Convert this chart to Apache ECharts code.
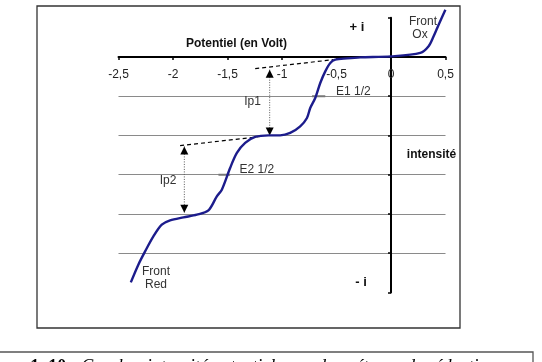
<!DOCTYPE html>
<html>
<head>
<meta charset="utf-8">
<script src="https://cdn.jsdelivr.net/npm/echarts@6/dist/echarts.min.js"></script>
<style>
html,body{margin:0;padding:0;background:#fff;overflow:hidden;}
#chart{width:542px;height:362px;}
</style>
</head>
<body>
<div id="chart"></div>
<script>
// ---- data ----
const xTicks = [-2.5, -2, -1.5, -1, -0.5, 0, 0.5];
const potentiel = [-2.387, -2.318, -2.256, -2.180, -2.103, -2.027, -1.904, -1.781, -1.675, -1.598, -1.552,
  -1.476, -1.414, -1.338, -1.246, -1.124, -1.017, -0.925, -0.833, -0.771, -0.741, -0.695, -0.649, -0.603,
  -0.557, -0.511, -0.404, -0.282, 0, 0.269, 0.345, 0.391, 0.437, 0.499];
const intensite = [-5.744, -5.293, -4.954, -4.572, -4.274, -4.164, -4.088, -4.019, -3.909, -3.552, -3.382,
  -2.829, -2.446, -2.192, -2.039, -1.998, -1.998, -1.937, -1.769, -1.555, -1.300, -1.045, -0.663, -0.367,
  -0.153, -0.069, -0.036, -0.010, 0.015, 0.102, 0.270, 0.525, 0.823, 1.205];
const tangent1X = [-1.246, -0.530];
const tangent1Y = [-0.298, -0.069];
const tangent2X = [-1.935, -1.182];
const tangent2Y = [-2.260, -2.023];
const arrowX = [-1.113, -1.896];
const arrowTop = [-0.324, -2.28];
const arrowBottom = [-2.0, -3.97];
const e1X = [-0.725, -0.603];
const e1Y = [-1, -1];
const e2X = [-1.583, -1.476];
const e2Y = [-3, -3];

const zip = (a, b) => a.map((v, i) => [v, b[i]]);
const SANS = 'Liberation Sans, Arial, sans-serif';
const SERIF = 'Liberation Serif, Times New Roman, serif';

const chart = echarts.init(document.getElementById('chart'), null, {renderer: 'canvas'});

function txt(text, x, y, opts) {
  return {
    type: 'text', x: x, y: y, z: 50,
    style: Object.assign({
      text: text, fill: '#333', font: '12px ' + SANS,
      align: 'center', verticalAlign: 'middle'
    }, opts || {})
  };
}

const Y_MIN = -6, Y_MAX = 1;
const GRID_H = 274.7;
// move the horizontal axis (with its labels) up to the line i = 0
const xAxisOffset = -GRID_H * (0 - Y_MIN) / (Y_MAX - Y_MIN);

const option = {
  animation: false,
  backgroundColor: '#fff',
  grid: {left: 118.5, top: 17.7, width: 327, height: GRID_H, containLabel: false},
  xAxis: {
    type: 'value', min: xTicks[0], max: xTicks[xTicks.length - 1], interval: 0.5,
    offset: xAxisOffset,
    axisLine: {onZero: false, lineStyle: {color: '#000', width: 2}},
    axisTick: {show: true, length: 3, lineStyle: {color: '#000', width: 1.5}},
    axisLabel: {
      margin: 12, color: '#222', fontSize: 12, fontFamily: SANS,
      formatter: v => String(v).replace('.', ',')
    },
    splitLine: {show: false}
  },
  yAxis: {
    type: 'value', min: Y_MIN, max: Y_MAX, interval: 1,
    axisLine: {onZero: true, lineStyle: {color: '#000', width: 2}},
    axisTick: {show: true, length: 3, lineStyle: {color: '#000', width: 1.5}},
    axisLabel: {show: false},
    splitLine: {show: true, showMinLine: false, showMaxLine: false, lineStyle: {color: '#8a8a8a', width: 1.2}}
  },
  series: [
    {
      type: 'line', data: zip(tangent1X, tangent1Y), showSymbol: false, symbol: 'none', z: 3,
      lineStyle: {color: '#000', width: 1.2, type: [4, 3]}, silent: true
    },
    {
      type: 'line', data: zip(tangent2X, tangent2Y), showSymbol: false, symbol: 'none', z: 3,
      lineStyle: {color: '#000', width: 1.2, type: [4, 3]}, silent: true
    },
    {
      type: 'line', data: zip(e1X, e1Y), showSymbol: false, symbol: 'none', z: 3,
      lineStyle: {color: '#777', width: 2}, silent: true
    },
    {
      type: 'line', data: zip(e2X, e2Y), showSymbol: false, symbol: 'none', z: 3,
      lineStyle: {color: '#777', width: 2}, silent: true
    },
    {
      type: 'custom', z: 4, silent: true,
      data: arrowX.map((x, i) => [x, arrowTop[i], arrowBottom[i]]),
      renderItem: function (params, api) {
        const x = api.value(0);
        const p1 = api.coord([x, api.value(1)]);
        const p2 = api.coord([x, api.value(2)]);
        const w = 4, h = 8;
        return {
          type: 'group',
          children: [
            {type: 'line', shape: {x1: p1[0], y1: p1[1], x2: p2[0], y2: p2[1]},
             style: {stroke: '#555', lineWidth: 1, lineDash: [1, 1.5]}},
            {type: 'polygon', shape: {points: [[p1[0], p1[1]], [p1[0] - w, p1[1] + h], [p1[0] + w, p1[1] + h]]},
             style: {fill: '#000'}},
            {type: 'polygon', shape: {points: [[p2[0], p2[1]], [p2[0] - w, p2[1] - h], [p2[0] + w, p2[1] - h]]},
             style: {fill: '#000'}}
          ]
        };
      }
    },
    {
      type: 'line', data: zip(potentiel, intensite), showSymbol: false, symbol: 'none',
      smooth: 0.3, clip: false, z: 5,
      lineStyle: {color: '#1c1c8c', width: 2.4}, silent: true
    }
  ],
  graphic: [
    {type: 'rect', z: 0, shape: {x: 37, y: 6, width: 423, height: 322},
     style: {fill: 'none', stroke: '#333', lineWidth: 1.3}},
    {type: 'rect', z: 0, shape: {x: -5, y: 352, width: 538, height: 40},
     style: {fill: 'none', stroke: '#555', lineWidth: 1.3}},
    {
      type: 'text', x: -25, y: 358.5, z: 50,
      style: {
        text: '{b|Figure 1. 10 : }{i|Courbes intensité potentiel avec deux étapes de réduction}',
        verticalAlign: 'top', align: 'left',
        rich: {
          b: {fontSize: 18, fontWeight: 'bold', fontFamily: SERIF, fill: '#000', lineHeight: 18},
          i: {fontSize: 18, fontStyle: 'italic', fontFamily: SERIF, fill: '#000', lineHeight: 18}
        }
      }
    },
    txt('Potentiel (en Volt)', 236.5, 44, {font: 'bold 12px ' + SANS, fill: '#111'}),
    txt('+ i', 357, 27, {font: 'bold 13px ' + SANS, fill: '#111'}),
    txt('- i', 361, 282, {font: 'bold 13px ' + SANS, fill: '#111'}),
    txt('intensité', 431.5, 155, {font: 'bold 12px ' + SANS, fill: '#111'}),
    txt('Front', 423, 22),
    txt('Ox', 420, 35),
    txt('Front', 156, 272),
    txt('Red', 156, 285),
    txt('E1 1/2', 336, 92, {align: 'left'}),
    txt('E2 1/2', 239.5, 170, {align: 'left'}),
    txt('Ip1', 252.5, 102),
    txt('Ip2', 168, 181)
  ]
};
chart.setOption(option);
</script>
</body>
</html>
